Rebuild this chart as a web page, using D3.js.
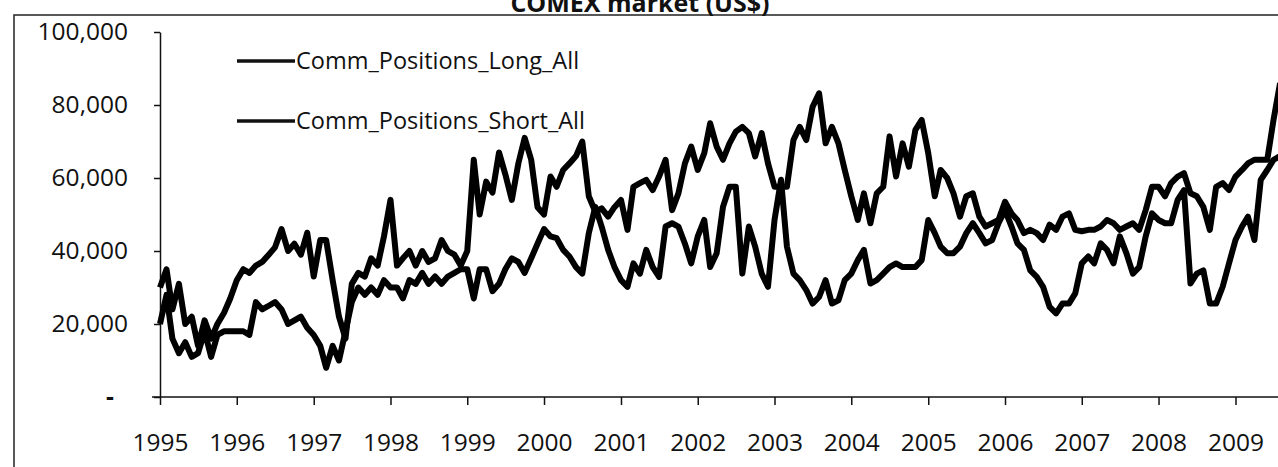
<!DOCTYPE html>
<html>
<head>
<meta charset="utf-8">
<script src="https://cdn.jsdelivr.net/npm/d3@7"></script>
<style>
  body { margin: 0; background: #fff; }
  svg { display: block; }
  text { font-family: "Open Sans", sans-serif; fill: #111; }
</style>
</head>
<body>
<svg id="chart" width="1278" height="467"></svg>
<script>
const title = "COMEX market (US$)";
const seriesNames = ["Comm_Positions_Long_All", "Comm_Positions_Short_All"];

// monthly readings (thousands of contracts), first value = Jan 1995
const longAll = [
  20, 28, 16, 12, 15, 11, 12, 18, 11, 17, 18, 18,
  18, 18, 17, 26, 24, 25, 26, 24, 20, 21, 22, 19,
  17, 14, 8, 14, 10, 18, 26, 30, 28, 30, 28, 32,
  30, 30, 27, 32, 31, 34, 31, 33, 31, 33, 34, 35,
  35, 27, 35, 35, 29, 31, 35, 38, 37, 34, 38, 42,
  46, 44, 43.5, 40.3, 38.5, 35.6, 33.8, 44.9, 52.1, 46.7, 40.3, 35.6,
  32, 30.2, 36.6, 33.8, 40.3, 35.6, 32.9, 46.7, 47.6, 46.7, 42, 36.6,
  44, 48.5, 35.6, 39.4, 52.1, 57.6, 57.6, 33.8, 46.7, 41.2, 33.8, 30.2,
  48.5, 59.5, 41.2, 33.8, 32, 29.3, 25.6, 27.4, 32, 25.6, 26.5, 32,
  33.8, 37.5, 40.3, 31.1, 32, 33.8, 35.6, 36.6, 35.6, 35.6, 35.6, 37.5,
  48.5, 44.9, 41.2, 39.4, 39.4, 41.2, 44.9, 47.6, 44.9, 42.1, 43, 47.6,
  51.2, 46.7, 42.1, 40.3, 34.7, 32.9, 30.2, 24.7, 22.9, 25.6, 25.6, 28.4,
  36.6, 38.5, 36.6, 42.1, 40.3, 36.6, 44, 39.4, 33.8, 35.6, 44, 50.3,
  48.5, 47.6, 47.6, 54, 56.7, 31.1, 33.8, 34.7, 25.6, 25.6, 30.2, 36.6,
  43, 46.7, 49.4, 43, 59.5, 62.2, 65, 66
];
const shortAll = [
  30, 35, 24, 31, 20, 22, 14, 21, 16, 20, 23, 27,
  32, 35, 34, 36, 37, 39, 41, 46, 40, 42, 39, 45,
  33, 43, 43, 32, 22, 16, 31, 34, 33, 38, 36, 44,
  54, 36, 38, 40, 36, 40, 37, 38, 43, 40, 39, 36,
  40, 65, 50, 59, 56, 67, 61, 54, 64, 71, 65, 52,
  50, 60.4, 57.6, 62.2, 64, 66, 70, 55, 50.7, 51.7, 49.4, 52,
  54, 45.8, 57.6, 58.6, 59.5, 56.7, 60.4, 65, 51.2, 55.8, 64, 68.6,
  62.2, 66.8, 75, 68.6, 65, 69.5, 72.7, 74, 72.3, 65.9, 72.3, 64,
  57.6, 57.6, 57.6, 70.4, 74, 70.4, 79.5, 83.2, 69.5, 74, 69.5, 62.2,
  55, 48.5, 55.8, 47.6, 55.8, 57.6, 71.4, 60.4, 69.5, 63.1, 73.2, 75.9,
  66.8, 55, 62.2, 60, 55.8, 49.4, 55, 55.8, 49.4, 46.7, 47.6, 48.5,
  53.5, 50.3, 48.5, 44.9, 45.8, 44.9, 43, 47.2, 45.8, 49.4, 50.3, 45.8,
  45.4, 45.8, 45.8, 46.7, 48.5, 47.6, 45.8, 46.7, 47.6, 45.8, 51.2, 57.6,
  57.6, 55, 58.6, 60.4, 61.3, 55.8, 55, 52.1, 45.8, 57.6, 58.6, 56.7,
  60.4, 62.2, 64, 65, 65, 65, 76, 86
];
const yTicks = [0, 20000, 40000, 60000, 80000, 100000];
const yearTicks = [1995, 1996, 1997, 1998, 1999, 2000, 2001, 2002, 2003, 2004, 2005, 2006, 2007, 2008, 2009];

const svg = d3.select("#chart");
const W = 1278, H = 467;

const x = d3.scaleTime()
    .domain([new Date(1995, 0, 1), new Date(2009, 0, 1)])
    .range([160, 1235.5]);
const y = d3.scaleLinear()
    .domain([0, 100000])
    .range([397, 32]);

// outer frame (only top and left edges survive in the scan)
svg.append("path")
    .attr("d", `M14,${H} V15 H${W}`)
    .attr("fill", "none")
    .attr("stroke", "#222")
    .attr("stroke-width", 1.5);

// title is cut by the top edge, as in the scan
svg.append("text")
    .attr("x", 640)
    .attr("y", 12)
    .attr("text-anchor", "middle")
    .attr("font-weight", "bold")
    .attr("font-size", 25)
    .text(title);

// y axis
const yAxis = svg.append("g")
    .attr("transform", "translate(160,0)")
    .call(d3.axisLeft(y)
        .tickValues(yTicks)
        .tickSize(6)
        .tickSizeOuter(0)
        .tickPadding(26)
        .tickFormat(d => d ? d3.format(",")(d) : "-"));
yAxis.select(".domain").attr("stroke", "#111").attr("stroke-width", 1.5);
yAxis.selectAll(".tick line").attr("stroke", "#111").attr("stroke-width", 1.5);
yAxis.selectAll(".tick text")
    .attr("font-size", 24.5)
    .attr("fill", "#111")
    .attr("font-family", "Open Sans")
    .filter(d => d === 0)
    .attr("x", -46)
    .attr("font-weight", "bold");

// x axis
const xAxis = svg.append("g")
    .attr("transform", "translate(0,397)")
    .call(d3.axisBottom(x)
        .tickValues(yearTicks.map(yr => new Date(yr, 0, 1)))
        .tickSize(8)
        .tickPadding(29)
        .tickFormat(d3.timeFormat("%Y")));
xAxis.select(".domain").remove();
xAxis.selectAll(".tick line").attr("stroke", "#111").attr("stroke-width", 1.5);
xAxis.selectAll(".tick text")
    .attr("font-size", 24.5)
    .attr("fill", "#111")
    .attr("font-family", "Open Sans");
svg.append("line")
    .attr("x1", 152).attr("x2", W)
    .attr("y1", y(0)).attr("y2", y(0))
    .attr("stroke", "#111")
    .attr("stroke-width", 1.5);

// series
const monthDate = i => new Date(1995, i, 1);
const line = d3.line()
    .x((d, i) => x(monthDate(i)))
    .y(d => y(d * 1000));

const plot = svg.append("g");
[longAll, shortAll].forEach(series => {
    plot.append("path")
        .datum(series)
        .attr("d", line)
        .attr("fill", "none")
        .attr("stroke", "#000")
        .attr("stroke-width", 6)
        .attr("stroke-linejoin", "round");
});

// legend
const legend = svg.append("g");
seriesNames.forEach((name, i) => {
    const ly = 61 + i * 60;
    legend.append("line")
        .attr("x1", 237).attr("x2", 295)
        .attr("y1", ly).attr("y2", ly)
        .attr("stroke", "#111")
        .attr("stroke-width", 3.5);
    legend.append("text")
        .attr("x", 296)
        .attr("y", ly)
        .attr("dy", "0.35em")
        .attr("font-size", 23.5)
        .text(name);
});
</script>
</body>
</html>
